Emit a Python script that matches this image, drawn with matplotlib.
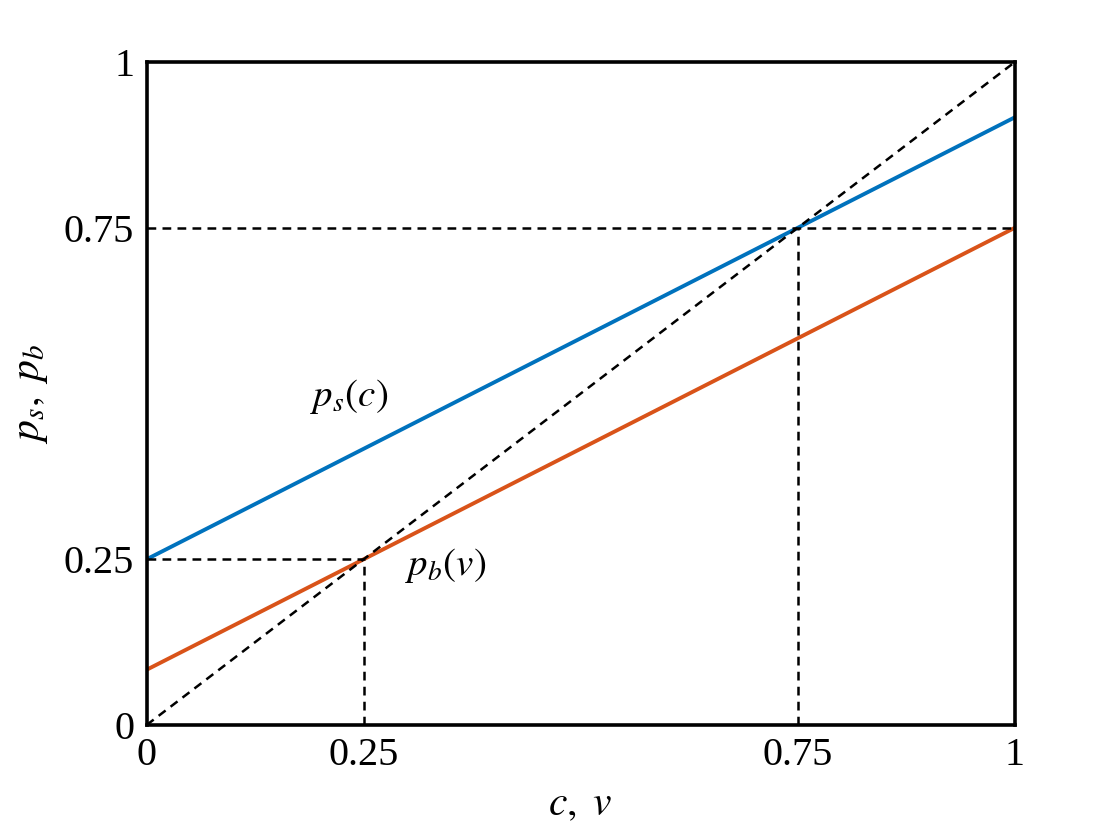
import matplotlib
matplotlib.use('Agg')
import matplotlib.pyplot as plt

plt.rcParams['font.family'] = ['Liberation Serif', 'DejaVu Serif']
plt.rcParams['mathtext.fontset'] = 'stix'

# data
c = [0, 1]
ps = [0.25, 0.9167]
pb = [0.0833, 0.75]
diag = [0, 1]
ticks = [0, 0.25, 0.75, 1]
tick_labels = ['0', '0.25', '0.75', '1']
eq_points = [0.25, 0.75]

fig = plt.figure(figsize=(11.2, 8.4), dpi=100)
ax = fig.add_axes([0.131, 0.137, 0.775, 0.789])

ax.plot(c, ps, color='#0072BD', lw=2.8)
ax.plot(c, pb, color='#D95319', lw=2.8)
dash = dict(color='k', ls='--', lw=1.8, dashes=(3.5, 2.5))
ax.plot(c, diag, **dash)

# guide lines at the crossing points
ax.plot([0, 1], [eq_points[1], eq_points[1]], **dash)
ax.plot([eq_points[1], eq_points[1]], [0, eq_points[1]], **dash)
ax.plot([0, eq_points[0]], [eq_points[0], eq_points[0]], **dash)
ax.plot([eq_points[0], eq_points[0]], [0, eq_points[0]], **dash)

ax.text(0.188, 0.495, r'$p_s(c)$', fontsize=28, va='center', ha='left')
ax.text(0.297, 0.241, r'$p_b(v)$', fontsize=28, va='center', ha='left')

ax.set_xlim(0, 1)
ax.set_ylim(0, 1)
ax.set_xticks(ticks)
ax.set_xticklabels(tick_labels)
ax.set_yticks(ticks)
ax.set_yticklabels(tick_labels)
ax.tick_params(length=0, labelsize=29, pad=9)

ax.set_xlabel(r'$c,\ v$', fontsize=30, labelpad=8)
ax.set_ylabel(r'$p_s,\ p_b$', fontsize=30, labelpad=10)

for s in ax.spines.values():
    s.set_linewidth(2.6)
    s.set_color('black')

fig.savefig('out.png', dpi=100)
